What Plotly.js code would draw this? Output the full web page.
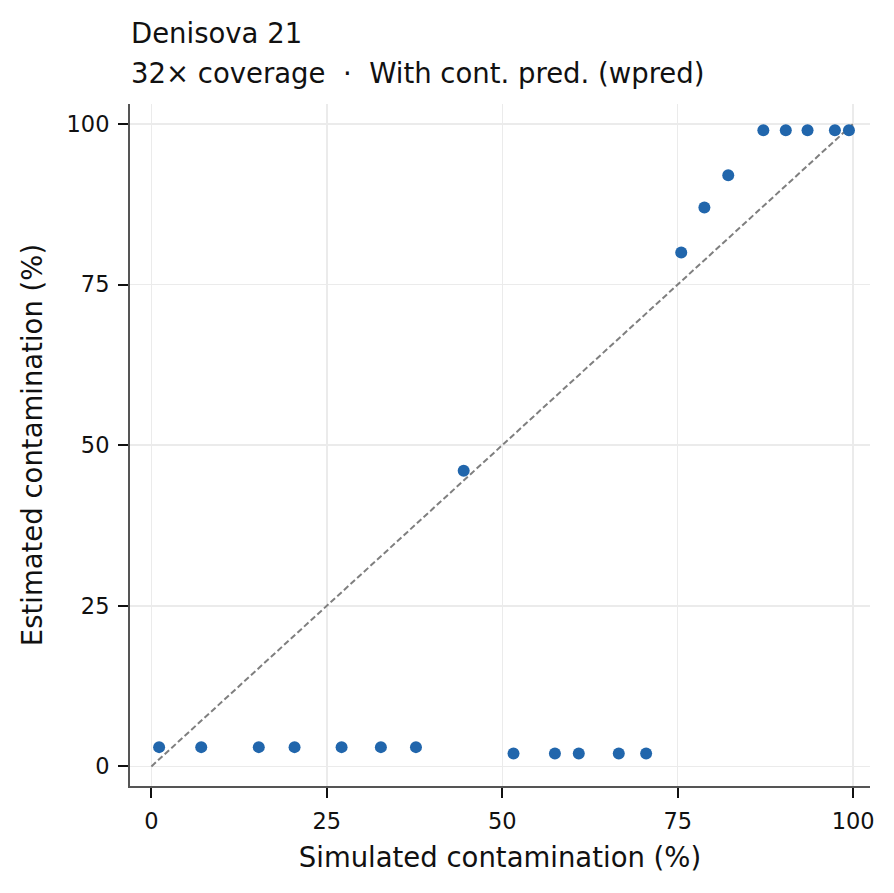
<!DOCTYPE html>
<html>
<head>
<meta charset="utf-8">
<script src="https://cdn.plot.ly/plotly-3.0.1.min.js"></script>
<style>
  html, body { margin: 0; padding: 0; background: #fff; }
  #plot { width: 894px; height: 893px; }
</style>
</head>
<body>
<div id="plot"></div>
<script>
// simulated vs estimated contamination (%)
const simulated = [1.1, 7.1, 15.3, 20.4, 27.1, 32.7, 37.7, 44.5, 51.6, 57.5, 60.9, 66.6, 70.5,
                   75.5, 78.8, 82.2, 87.2, 90.4, 93.5, 97.4, 99.4];
const estimated = [3, 3, 3, 3, 3, 3, 3, 46, 2, 2, 2, 2, 2,
                   80, 87, 92, 99, 99, 99, 99, 99];
const identity = [0, 100];
const tickVals = [0, 25, 50, 75, 100];

const font = "DejaVu Sans, sans-serif";

const traces = [
  {
    type: "scatter",
    mode: "lines",
    x: identity,
    y: identity,
    line: { color: "#7f7f7f", width: 2, dash: "6px,3px" },
    hoverinfo: "skip",
    showlegend: false,
  },
  {
    type: "scatter",
    mode: "markers",
    x: simulated,
    y: estimated,
    marker: { color: "#2166ac", size: 12 },
    showlegend: false,
  },
];

const axisCommon = {
  tickvals: tickVals,
  showgrid: true,
  gridcolor: "#ebebeb",
  gridwidth: 1.5,
  zeroline: false,
  showline: true,
  linecolor: "#555555",
  linewidth: 2,
  ticks: "outside",
  ticklen: 10,
  tickwidth: 2,
  tickcolor: "#111111",
  tickfont: { family: font, size: 22.5, color: "#111" },
};

const layout = {
  width: 894,
  height: 893,
  margin: { l: 130, r: 24, t: 104, b: 107 },
  paper_bgcolor: "#ffffff",
  plot_bgcolor: "#ffffff",
  font: { family: font, color: "#111" },
  xaxis: Object.assign({}, axisCommon, {
    range: [-3.05, 102.4],
    ticklabelstandoff: 4,
    title: { text: "Simulated contamination (%)", font: { family: font, size: 27.5 }, standoff: 15 },
  }),
  yaxis: Object.assign({}, axisCommon, {
    range: [-3.05, 103.1],
    ticklabelstandoff: 4,
    title: { text: "Estimated contamination (%)", font: { family: font, size: 27.5 }, standoff: 16 },
  }),
  annotations: [
    {
      text: "Denisova 21",
      xref: "paper", yref: "paper", x: 0, y: 1, xanchor: "left", yanchor: "middle",
      xshift: -1, yshift: 71, showarrow: false,
      font: { family: font, size: 27.5, color: "#111" },
    },
    {
      text: "32× coverage  ·  With cont. pred. (wpred)",
      xref: "paper", yref: "paper", x: 0, y: 1, xanchor: "left", yanchor: "middle",
      xshift: -1, yshift: 31, showarrow: false,
      font: { family: font, size: 27.5, color: "#111" },
    },
  ],
};

Plotly.newPlot("plot", traces, layout, { displayModeBar: false, staticPlot: true });
</script>
</body>
</html>
